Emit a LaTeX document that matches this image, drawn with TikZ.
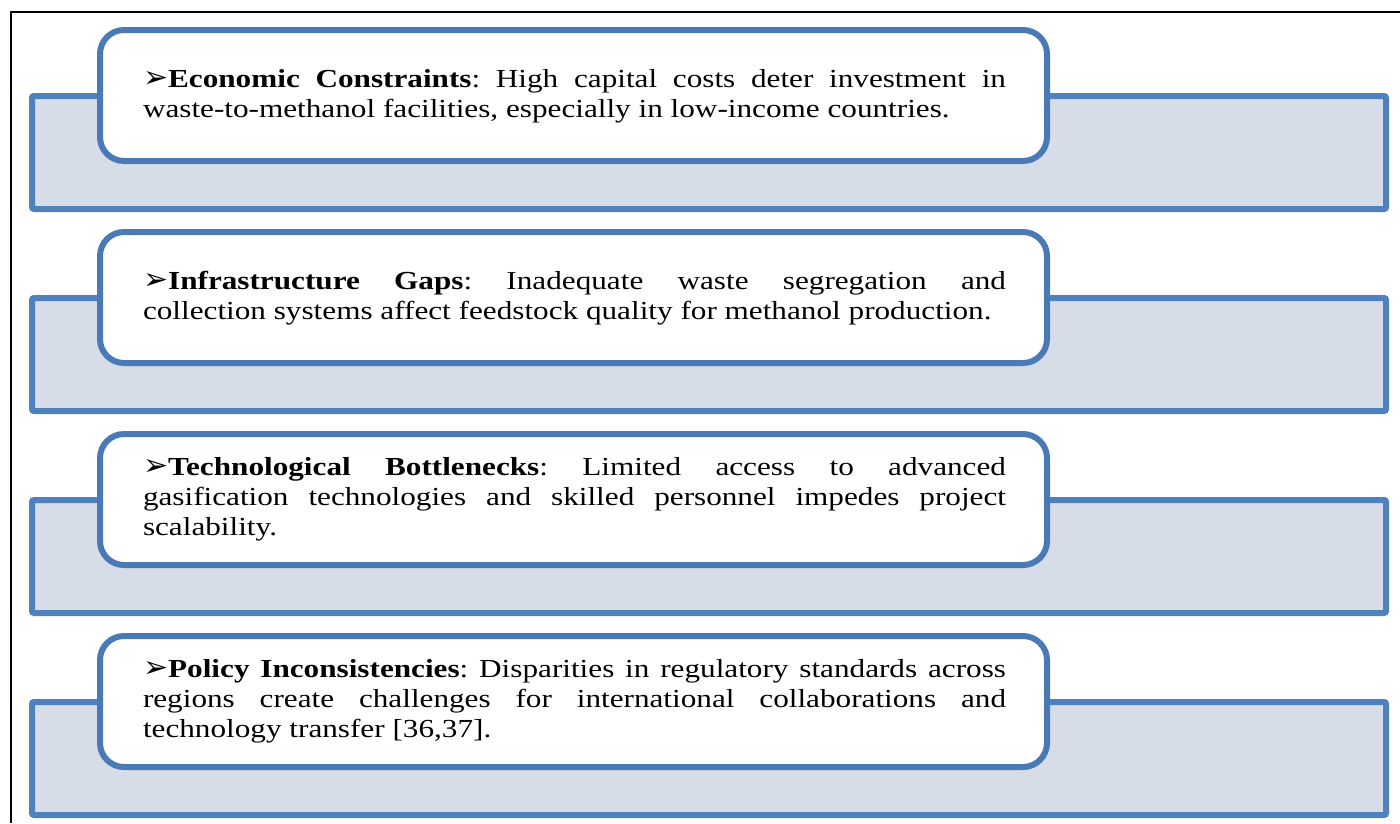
\documentclass[tikz,border=0pt]{standalone}
\usepackage{fontspec}
\setmainfont{Liberation Serif}[FakeStretch=1.2]
\newfontfamily\symfont{DejaVu Sans}

\definecolor{barline}{HTML}{4F81BD}
\definecolor{cardline}{HTML}{4A7AB6}
\definecolor{barfill}{HTML}{D6DCE8}

\tikzset{
  backbar/.style={draw=barline, fill=barfill, line width=6pt, rounded corners=2pt,
    minimum width=1354pt, minimum height=113pt, inner sep=0pt, outer sep=0pt,
    anchor=north west},
  card/.style={draw=cardline, fill=white, line width=6pt, rounded corners=24pt,
    minimum width=947pt, minimum height=131pt, inner sep=0pt, outer sep=0pt,
    anchor=north west},
  cardtext/.style={anchor=base west, inner sep=0pt, outer sep=0pt, align=left},
  frameline/.style={draw=black, line width=2pt}
}

% one bullet paragraph, justified, set at the width of the card text
\newcommand{\cardpar}[2]{%
  \parbox[t]{863pt}{\fontsize{26}{30}\selectfont\frenchspacing
    \hyphenpenalty=10000 \exhyphenpenalty=10000
    {\symfont\fontsize{30}{30}\selectfont\char"27A2}\textbf{#1}: #2}}

\begin{document}
\begin{tikzpicture}[x=1pt, y=-1pt]
  \useasboundingbox (0,0) rectangle (1400,823);

  % page frame
  \coordinate (fr1) at (1400,12);
  \coordinate (fr2) at (11,12);
  \coordinate (fr3) at (11,823);
  \draw[frameline] (fr1) -- (fr2) -- (fr3);

  % shaded bars behind the cards
  \node[backbar] (bar1) at (32,96)  {};
  \node[backbar] (bar2) at (32,298) {};
  \node[backbar] (bar3) at (32,500) {};
  \node[backbar] (bar4) at (32,702) {};

  % white cards
  \node[card] (card1) at (100,30)  {};
  \node[card] (card2) at (100,232) {};
  \node[card] (card3) at (100,434) {};
  \node[card] (card4) at (100,636) {};

  % card texts
  \node[cardtext] (text1) at (143,87) {\cardpar{Economic Constraints}{High capital costs deter investment in\linebreak
    waste-to-methanol facilities, especially in low-income countries.}};
  \node[cardtext] (text2) at (143,289) {\cardpar{Infrastructure Gaps}{Inadequate waste segregation and\linebreak
    collection systems affect feedstock quality for methanol production.}};
  \node[cardtext] (text3) at (143,475) {\cardpar{Technological Bottlenecks}{Limited access to advanced\linebreak
    gasification technologies and skilled personnel impedes project\linebreak
    scalability.}};
  \node[cardtext] (text4) at (143,677) {\cardpar{Policy Inconsistencies}{Disparities in regulatory standards across\linebreak
    regions create challenges for international collaborations and\linebreak
    technology transfer [36,37].}};
\end{tikzpicture}
\end{document}
